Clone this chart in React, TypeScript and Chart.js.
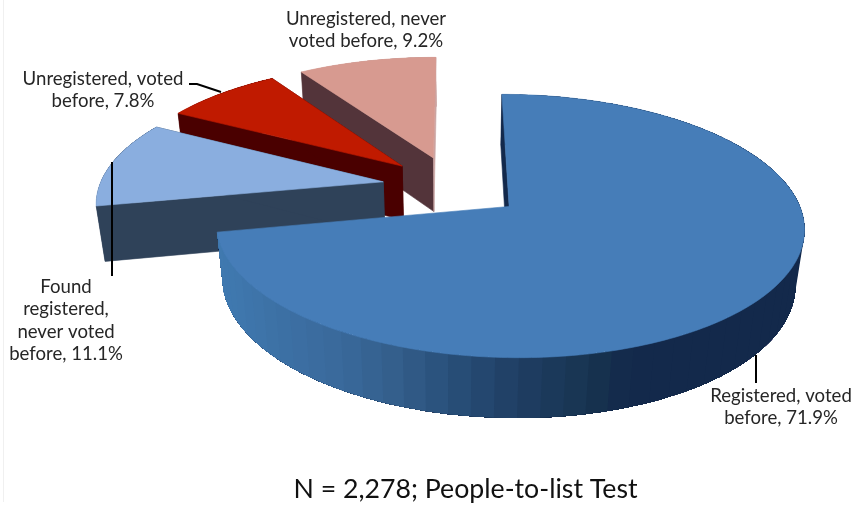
import React, { useEffect, useRef } from "react";
import { Chart, registerables } from "chart.js";

Chart.register(...registerables);

const categories = [
  "Registered, voted before",
  "Found registered, never voted before",
  "Unregistered, voted before",
  "Unregistered, never voted before",
];
const shares = [71.9, 11.1, 7.8, 9.2];
const topColors = ["#467DB8", "#8AAEDF", "#C01A00", "#D79A90"];
const wallColors = ["#13294B", "#2F4259", "#4A0000", "#53343A"];
const rimColors = ["#13294B", "#2F4259", "#4A0000", "#CBA5A2"];
const labelLines = [
  ["Registered, voted", "before, 71.9%"],
  ["Found", "registered,", "never voted", "before, 11.1%"],
  ["Unregistered, voted", "before, 7.8%"],
  ["Unregistered, never", "voted before, 9.2%"],
];
const titleText = "N = 2,278; People-to-list Test";

// Perspective camera of the 3D pie
const CX = 453, CY = 186.5, A = 284, B = 122.9, K = 0.145, N = 0.025, DEPTH = 56;
const EXPLODE = 0.25;
const project = (u: number, v: number, h: number): [number, number] => {
  const w = 1 + K * v + N * h;
  return [CX + (A * u) / w, CY - (B * v) / w + (DEPTH * h) / w];
};

const labelAnchors: [number, number][] = [[781, 396], [66, 287], [103, 79], [366, 19]];
const LINE_H = 22.3;
const leaders: [number, number][][] = [
  [[756, 355], [756, 383]],
  [[112, 162], [112, 276]],
  [[189, 84], [197, 84], [221, 92]],
];

const shadeStops: [number, [number, number, number]][] = [
  [159, [0x13, 0x29, 0x4b]],
  [165, [0x17, 0x33, 0x4f]],
  [178, [0x1f, 0x3e, 0x63]],
  [191, [0x2a, 0x52, 0x7c]],
  [200, [0x34, 0x5f, 0x8c]],
  [210, [0x39, 0x69, 0x9b]],
  [222, [0x3c, 0x6f, 0xa3]],
  [242, [0x3f, 0x78, 0xae]],
  [260, [0x40, 0x79, 0xb0]],
];
const shade = (deg: number) => {
  if (deg <= shadeStops[0][0]) return `rgb(${shadeStops[0][1].join(",")})`;
  for (let i = 1; i < shadeStops.length; i++) {
    const [d1, c1] = shadeStops[i];
    const [d0, c0] = shadeStops[i - 1];
    if (deg <= d1) {
      const t = (deg - d0) / (d1 - d0);
      return `rgb(${c0.map((c, j) => Math.round(c + (c1[j] - c) * t)).join(",")})`;
    }
  }
  return `rgb(${shadeStops[shadeStops.length - 1][1].join(",")})`;
};

const fillPoly = (ctx: CanvasRenderingContext2D, pts: [number, number][], color: string, stroke = 0.6) => {
  ctx.beginPath();
  pts.forEach((p, i) => (i ? ctx.lineTo(p[0], p[1]) : ctx.moveTo(p[0], p[1])));
  ctx.closePath();
  ctx.fillStyle = color;
  ctx.fill();
  if (stroke > 0) {
    ctx.strokeStyle = color;
    ctx.lineWidth = stroke;
    ctx.stroke();
  }
};

const BAND = (4 * Math.PI) / 180;
const STEP = Math.PI / 180;

const pie3d = {
  id: "pie3d",
  beforeDatasetsDraw(chart: any) {
    const ctx: CanvasRenderingContext2D = chart.ctx;
    const arcs = chart.getDatasetMeta(0).data;
    ctx.save();
    ctx.fillStyle = "#F0F0F0";
    ctx.fillRect(3, 0, 1, 502);
    for (let i = arcs.length - 1; i >= 0; i--) {
      const arc = arcs[i];
      const a0 = arc.startAngle + Math.PI / 2;
      const a1 = arc.endAngle + Math.PI / 2;
      const mid = (a0 + a1) / 2;
      const ou = EXPLODE * Math.sin(mid);
      const ov = EXPLODE * Math.cos(mid);
      const at = (t: number, h: number) => project(ou + Math.sin(t), ov + Math.cos(t), h);
      const apex = (h: number) => project(ou, ov, h);
      const wall = wallColors[i];

      // outer wall: bands painted from the far side, each reaching to the end of the
      // arc, so that no seams show between neighbouring bands
      const count = Math.ceil((a1 - a0) / BAND);
      for (let b = 0; b < count; b++) {
        const t0 = a0 + b * BAND;
        const pts: [number, number][] = [];
        for (let t = t0; t < a1; t += STEP) pts.push(at(t, 0));
        pts.push(at(a1, 0));
        pts.push(at(a1, 1));
        for (let t = a1 - STEP; t > t0; t -= STEP) pts.push(at(t, 1));
        pts.push(at(t0, 1));
        fillPoly(ctx, pts, i === 0 ? shade((t0 * 180) / Math.PI) : rimColors[i], 0);
      }

      // radial walls
      fillPoly(ctx, [apex(0), at(a0, 0), at(a0, 1), apex(1)], wall);
      if (i === 1 || i === 2) fillPoly(ctx, [apex(0), at(a1, 0), at(a1, 1), apex(1)], wall);
      if (i === 3) fillPoly(ctx, [apex(0), at(a1, 0), at(a1, 1), apex(1)], rimColors[i]);

      // top face
      const pts: [number, number][] = [apex(0)];
      const n = Math.ceil((a1 - a0) / STEP);
      for (let s = 0; s <= n; s++) pts.push(at(a0 + ((a1 - a0) * s) / n, 0));
      fillPoly(ctx, pts, arc.options.backgroundColor);
    }
    ctx.restore();
    return false;
  },
  afterDraw(chart: any) {
    const ctx: CanvasRenderingContext2D = chart.ctx;
    ctx.save();
    ctx.strokeStyle = "#000";
    ctx.lineWidth = 2;
    leaders.forEach((line) => {
      ctx.beginPath();
      line.forEach((p, i) => (i ? ctx.lineTo(p[0], p[1]) : ctx.moveTo(p[0], p[1])));
      ctx.stroke();
    });
    ctx.fillStyle = "#262626";
    ctx.font = "18.6px Lato";
    ctx.textAlign = "center";
    ctx.textBaseline = "middle";
    labelLines.forEach((lines, i) => {
      lines.forEach((line, j) => {
        ctx.fillText(line, labelAnchors[i][0], labelAnchors[i][1] + j * LINE_H);
      });
    });
    ctx.restore();
  },
};

export default function App() {
  const ref = useRef<HTMLCanvasElement>(null);
  useEffect(() => {
    document.body.style.margin = "0";
    const chart = new Chart(ref.current!, {
      type: "pie",
      data: {
        labels: categories,
        datasets: [{ data: shares, backgroundColor: topColors, borderWidth: 0 }],
      },
      options: {
        animation: false,
        responsive: false,
        rotation: 0,
        layout: { padding: { left: 80 } },
        plugins: {
          legend: { display: false },
          tooltip: { enabled: false },
          title: {
            display: true,
            text: titleText,
            position: "bottom",
            fullSize: false,
            color: "#111111",
            font: { family: "Lato", size: 26.7, weight: "normal" },
            padding: { top: 0, bottom: 0 },
          },
        },
      },
      plugins: [pie3d],
    } as any);
    return () => chart.destroy();
  }, []);
  return <canvas ref={ref} width={851} height={505} style={{ display: "block", background: "#fff" }} />;
}
